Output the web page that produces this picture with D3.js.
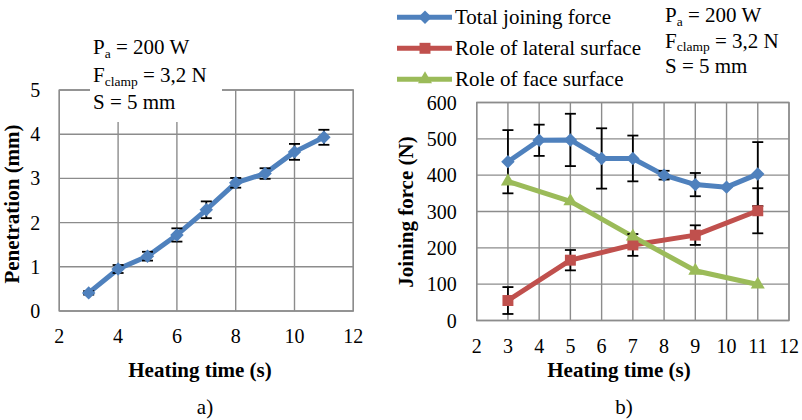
<!DOCTYPE html>
<html>
<head>
<meta charset="utf-8">
<script src="https://cdn.jsdelivr.net/npm/d3@7"></script>
<style>
body { margin: 0; background: #fff; }
text { font-family: "Liberation Serif", "Times New Roman", serif; fill: #000; }
</style>
</head>
<body>
<div id="chart"></div>
<script>
// Panel a) - penetration vs heating time
var timeA = [3, 4, 5, 6, 7, 8, 9, 10, 11];
var penetration = [0.41, 0.95, 1.24, 1.72, 2.29, 2.9, 3.11, 3.6, 3.93];
var penetrationErr = [0.04, 0.09, 0.1, 0.15, 0.19, 0.11, 0.12, 0.18, 0.17];
var ticksXA = [2, 4, 6, 8, 10, 12];
var ticksYA = [0, 1, 2, 3, 4, 5];

// Panel b) - joining force vs heating time
var timeB = [3, 4, 5, 6, 7, 8, 9, 10, 11];
var totalForce = [437, 496, 497, 446, 446, 400, 374, 367, 403];
var totalForceErr = [87, 43, 72, 83, 63, 12, 32, 0, 88];
var timeParts = [3, 5, 7, 9, 11];
var lateralForce = [55, 166, 208, 235, 302];
var lateralForceErr = [37, 28, 30, 27, 62];
var faceForce = [383, 328, 231, 137, 99];
var ticksXB = [2, 3, 4, 5, 6, 7, 8, 9, 10, 11, 12];
var ticksYB = [0, 100, 200, 300, 400, 500, 600];

var legendNames = ["Total joining force", "Role of lateral surface", "Role of face surface"];

// Colors (Excel 2007 palette)
var blue = "#4f81bd", red = "#c0504d", green = "#9bbb59";
var gridColor = "#8c8c8c";
var fontSize = 20;

var svg = d3.select("#chart")
    .append("svg")
        .attr("width", 802)
        .attr("height", 420);

// marker shapes
function marker(g, shape, color, x, y) {
    var sym;
    if (shape == "diamond") sym = d3.symbol(d3.symbolSquare, 90);
    else if (shape == "square") sym = d3.symbol(d3.symbolSquare, 120);
    else sym = d3.symbol(d3.symbolTriangle, 85);
    g.append("path")
        .attr("d", sym())
        .attr("fill", color)
        .attr("transform", "translate(" + x + "," + y + ")" + (shape == "diamond" ? " rotate(45)" : ""));
}

// draws one panel: grid, tick labels, axis titles
function panel(opt) {
    var x = d3.scaleLinear().domain(opt.xDomain).range(opt.xRange);
    var y = d3.scaleLinear().domain(opt.yDomain).range(opt.yRange);
    var g = svg.append("g");

    // gridlines
    g.selectAll(".vgrid").data(opt.ticksX).join("line")
        .attr("x1", d => x(d)).attr("x2", d => x(d))
        .attr("y1", opt.yRange[0]).attr("y2", opt.yRange[1])
        .attr("stroke", gridColor).attr("stroke-width", 1.4);
    g.selectAll(".hgrid").data(opt.ticksY).join("line")
        .attr("x1", opt.xRange[0]).attr("x2", opt.xRange[1])
        .attr("y1", d => y(d)).attr("y2", d => y(d))
        .attr("stroke", gridColor).attr("stroke-width", 1.4);

    // tick labels
    g.selectAll(".xlab").data(opt.ticksX).join("text")
        .attr("x", d => x(d))
        .attr("y", opt.yRange[0] + opt.xLabelGap)
        .attr("text-anchor", "middle")
        .style("font-size", fontSize + "px")
        .text(d => d);
    g.selectAll(".ylab").data(opt.ticksY).join("text")
        .attr("x", opt.xRange[0] - opt.yLabelGap)
        .attr("y", d => y(d))
        .attr("dy", "0.35em")
        .attr("text-anchor", "end")
        .style("font-size", fontSize + "px")
        .text(d => d);

    // axis titles
    g.append("text")
        .attr("x", opt.xTitlePos[0]).attr("y", opt.xTitlePos[1])
        .attr("text-anchor", "middle")
        .style("font-size", "21px").style("font-weight", "bold")
        .text("Heating time (s)");
    g.append("text")
        .attr("transform", "translate(" + opt.yTitlePos[0] + "," + opt.yTitlePos[1] + ") rotate(-90)")
        .attr("text-anchor", "middle")
        .style("font-size", "21px").style("font-weight", "bold")
        .text(opt.yTitle);

    // panel letter
    g.append("text")
        .attr("x", opt.xTitlePos[0] + 5).attr("y", 414)
        .attr("text-anchor", "middle")
        .style("font-size", "21px")
        .text(opt.letter);

    return {x: x, y: y, g: g};
}

function series(p, xs, ys, color, width) {
    var line = d3.line().x((d, i) => p.x(xs[i])).y(d => p.y(d));
    p.g.append("path")
        .datum(ys)
        .attr("d", line)
        .attr("fill", "none")
        .attr("stroke", color)
        .attr("stroke-width", width)
        .attr("stroke-linejoin", "round");
}

function errorBars(p, xs, ys, errs) {
    var eg = p.g.append("g").attr("stroke", "#000").attr("stroke-width", 1.8);
    xs.forEach(function (xv, i) {
        if (!errs[i]) return;
        var cx = p.x(xv), y1 = p.y(ys[i] - errs[i]), y2 = p.y(ys[i] + errs[i]);
        eg.append("line").attr("x1", cx).attr("x2", cx).attr("y1", y1).attr("y2", y2);
        eg.append("line").attr("x1", cx - 5.5).attr("x2", cx + 5.5).attr("y1", y1).attr("y2", y1);
        eg.append("line").attr("x1", cx - 5.5).attr("x2", cx + 5.5).attr("y1", y2).attr("y2", y2);
    });
}

function markers(p, xs, ys, shape, color) {
    xs.forEach((xv, i) => marker(p.g, shape, color, p.x(xv), p.y(ys[i])));
}

function annotation(x0, baselines) {
    var lines = [["P", "a", " = 200 W"], ["F", "clamp", " = 3,2 N"], ["S = 5 mm", null, null]];
    lines.forEach(function (l, i) {
        var t = svg.append("text")
            .attr("x", x0).attr("y", baselines[i])
            .style("font-size", "21px");
        t.append("tspan").text(l[0]);
        if (l[1]) {
            t.append("tspan").attr("dy", 3.5).style("font-size", "13.5px").text(l[1]);
            t.append("tspan").attr("dy", -3.5).text(l[2]);
        }
    });
}

// ---- Panel a)
var pa = panel({
    xDomain: [2, 12], xRange: [59.3, 353.3],
    yDomain: [0, 5], yRange: [311, 90],
    ticksX: ticksXA, ticksY: ticksYA,
    xLabelGap: 32, yLabelGap: 19,
    xTitlePos: [200, 377], yTitlePos: [19, 204],
    yTitle: "Penetration (mm)", letter: "a)"
});
pa.g.append("rect")
    .attr("x", 59.3).attr("y", 90).attr("width", 294).attr("height", 221)
    .attr("fill", "none").attr("stroke", gridColor).attr("stroke-width", 1.4);
// white box behind the text
pa.g.append("rect")
    .attr("x", 90).attr("y", 30).attr("width", 132).attr("height", 92)
    .attr("fill", "#fff");
series(pa, timeA, penetration, blue, 5);
errorBars(pa, timeA, penetration, penetrationErr);
markers(pa, timeA, penetration, "diamond", blue);
annotation(93, [54, 82, 109]);

// ---- Panel b)
var pb = panel({
    xDomain: [2, 12], xRange: [476.7, 789],
    yDomain: [0, 600], yRange: [320.5, 102.5],
    ticksX: ticksXB, ticksY: ticksYB,
    xLabelGap: 32, yLabelGap: 20,
    xTitlePos: [619, 377], yTitlePos: [413, 212],
    yTitle: "Joining force (N)", letter: "b)"
});
pb.g.append("rect")
    .attr("x", 476.7).attr("y", 102.5).attr("width", 312.3).attr("height", 218)
    .attr("fill", "none").attr("stroke", gridColor).attr("stroke-width", 1.4);
series(pb, timeB, totalForce, blue, 5);
series(pb, timeParts, lateralForce, red, 5);
series(pb, timeParts, faceForce, green, 5);
errorBars(pb, timeB, totalForce, totalForceErr);
errorBars(pb, timeParts, lateralForce, lateralForceErr);
markers(pb, timeB, totalForce, "diamond", blue);
markers(pb, timeParts, lateralForce, "square", red);
markers(pb, timeParts, faceForce, "triangle", green);

// legend
var legColors = [blue, red, green];
var legShapes = ["diamond", "square", "triangle"];
var leg = svg.append("g");
legendNames.forEach(function (name, i) {
    var ly = 17.3 + i * 31;
    leg.append("line")
        .attr("x1", 397).attr("x2", 452).attr("y1", ly).attr("y2", ly)
        .attr("stroke", legColors[i]).attr("stroke-width", 5);
    marker(leg, legShapes[i], legColors[i], 425, ly);
    leg.append("text")
        .attr("x", 455).attr("y", ly + 7)
        .style("font-size", "21px")
        .text(name);
});
annotation(665, [22, 47.5, 73]);
</script>
</body>
</html>
